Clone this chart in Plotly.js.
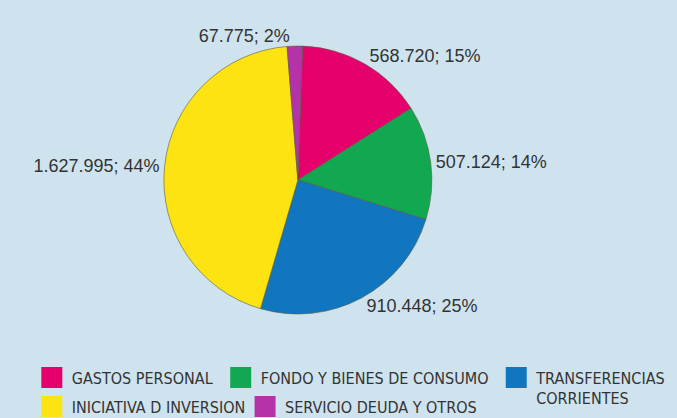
<!DOCTYPE html>
<html>
<head>
<meta charset="utf-8">
<script src="https://cdn.plot.ly/plotly-3.0.1.min.js"></script>
<style>html,body{margin:0;padding:0;background:#cfe3ef;}#chart{width:677px;height:418px;}</style>
</head>
<body>
<div id="chart"></div>
<script>
var categories = ["GASTOS PERSONAL", "FONDO Y BIENES DE CONSUMO", "TRANSFERENCIAS<br>CORRIENTES", "INICIATIVA D INVERSION", "SERVICIO DEUDA Y OTROS"];
var values = [568720, 507124, 910448, 1627995, 67775];
var colors = ["#e6006c", "#12a852", "#1076c0", "#fde312", "#b532a8"];

// legend placement (layout only)
var legendX = [0.047, 0.326, 0.733, 0.047, 0.362];
var legendY = [-0.1735, -0.1735, -0.1735, -0.2817, -0.2817];
var legendIds = ["legend", "legend2", "legend3", "legend4", "legend5"];

var pie = {
  type: "pie",
  labels: categories,
  values: values,
  sort: false,
  direction: "clockwise",
  rotation: 2,
  showlegend: false,
  marker: {colors: colors, line: {color: "#5a5a40", width: 0.6}},
  texttemplate: "%{value:,.0f}; %{percent:.0%}",
  textposition: "outside",
  textfont: {family: "Liberation Sans, Arial, sans-serif", size: 18, color: "#333"},
  hoverinfo: "none",
  domain: {x: [0, 0.88], y: [0, 1]}
};

var traces = [pie];
categories.forEach(function (c, i) {
  traces.push({
    type: "scatter", mode: "markers",
    x: [null], y: [null],
    name: c,
    legend: legendIds[i],
    showlegend: true,
    hoverinfo: "none",
    marker: {symbol: "square", size: 16, color: colors[i], line: {color: colors[i], width: 5}}
  });
});

var legendFont = {family: "DejaVu Sans Condensed, sans-serif", size: 16, color: "#333"};

var layout = {
  width: 677, height: 418,
  margin: {l: 0, r: 0, t: 46, b: 104, autoexpand: false},
  paper_bgcolor: "#cfe3ef",
  plot_bgcolor: "#cfe3ef",
  separators: ",.",
  xaxis: {visible: false},
  yaxis: {visible: false}
};
legendIds.forEach(function (id, i) {
  layout[id] = {
    orientation: "h",
    x: legendX[i], xanchor: "left",
    y: legendY[i], yanchor: "top",
    valign: "top",
    itemwidth: 30,
    font: legendFont,
    bgcolor: "rgba(0,0,0,0)"
  };
});

Plotly.newPlot("chart", traces, layout, {displayModeBar: false, staticPlot: true});
</script>
</body>
</html>
